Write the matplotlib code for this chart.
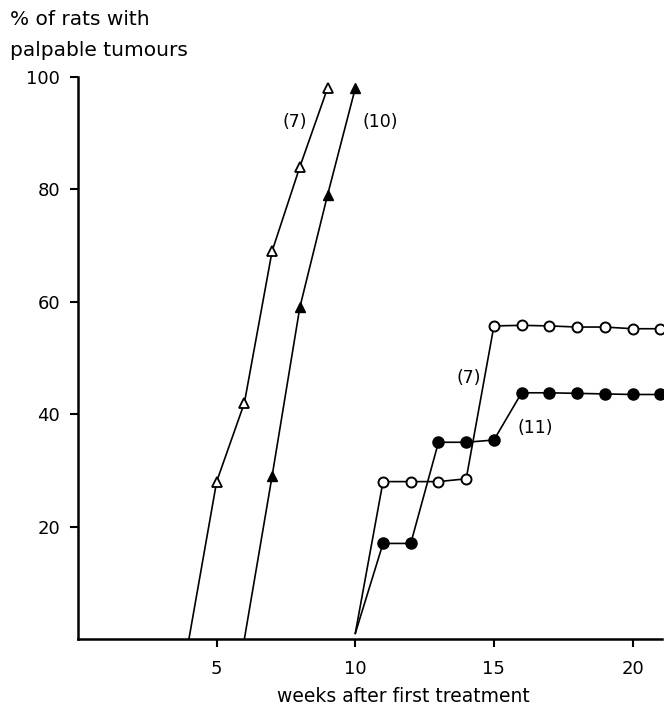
import matplotlib.pyplot as plt

plt.rcParams['font.family'] = ['DejaVu Sans']

# weeks after first treatment / % of rats with palpable tumours
tri_open_x = [4, 5, 6, 7, 8, 9]
tri_open_y = [0, 28, 42, 69, 84, 98]

tri_fill_x = [6, 7, 8, 9, 10]
tri_fill_y = [0, 29, 59, 79, 98]

circ_open_x = [10, 11, 12, 13, 14, 15, 16, 17, 18, 19, 20, 21]
circ_open_y = [1, 28, 28, 28, 28.5, 55.7, 55.8, 55.7, 55.5, 55.5, 55.2, 55.2]

circ_fill_x = [10, 11, 12, 13, 14, 15, 16, 17, 18, 19, 20, 21]
circ_fill_y = [1, 17, 17, 35, 35, 35.4, 43.8, 43.8, 43.7, 43.6, 43.5, 43.5]

# group sizes shown next to the curves
group_labels = ["(7)", "(10)", "(7)", "(11)"]
label_pos = [(7.8, 92), (10.9, 92), (14.1, 46.5), (16.5, 37.5)]

fig = plt.figure(figsize=(6.64, 7.07), dpi=100)
ax = fig.add_axes([0.1175, 0.0962, 0.879, 0.795])

lw = 1.2
ax.plot(tri_open_x, tri_open_y, color="black", lw=lw, marker="^", ms=7.5,
        mfc="white", mec="black", mew=1.3, markevery=list(range(1, len(tri_open_x))))
ax.plot(tri_fill_x, tri_fill_y, color="black", lw=lw, marker="^", ms=7.5,
        mfc="black", mec="black", markevery=list(range(1, len(tri_fill_x))))
ax.plot(circ_open_x, circ_open_y, color="black", lw=lw, marker="o", ms=7.2,
        mfc="white", mec="black", mew=1.4, clip_on=False,
        markevery=list(range(1, len(circ_open_x))))
ax.plot(circ_fill_x, circ_fill_y, color="black", lw=lw, marker="o", ms=8,
        mfc="black", mec="black", clip_on=False,
        markevery=list(range(1, len(circ_fill_x))))

for txt, (x, y) in zip(group_labels, label_pos):
    ax.text(x, y, txt, fontsize=12.5, ha="center", va="center")

ax.set_xlim(0, 21.05)
ax.set_ylim(0, 100)
ax.set_xticks([5, 10, 15, 20])
ax.set_yticks([20, 40, 60, 80, 100])
ax.tick_params(direction="out", length=6, width=1.5, labelsize=13)
ax.tick_params(axis="x", pad=9)
ax.tick_params(axis="y", pad=7)

for side in ["top", "right"]:
    ax.spines[side].set_visible(False)
for side in ["left", "bottom"]:
    ax.spines[side].set_linewidth(1.8)

ax.text(0.558, -0.102, "weeks after first treatment", fontsize=13.5,
        ha="center", va="center", transform=ax.transAxes)
fig.text(0.015, 0.972, "% of rats with", fontsize=14.5, va="center")
fig.text(0.015, 0.929, "palpable tumours", fontsize=14.5, va="center")

fig.savefig("out.png", dpi=100)
